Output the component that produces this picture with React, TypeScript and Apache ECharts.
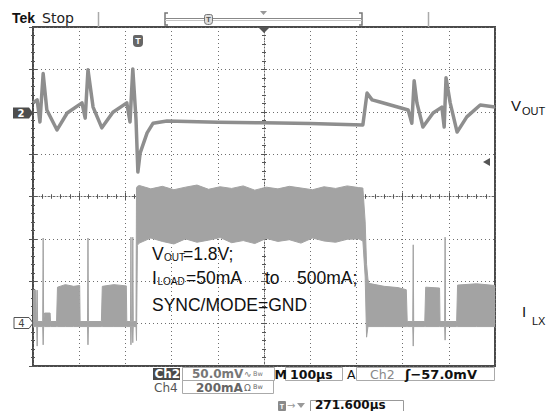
import React, { useEffect, useRef } from "react";
import * as echarts from "echarts";

// Horizontal: time in µs from the left edge of the screen (100 µs/div, 10 div)
// Vertical: screen divisions (-4 .. 4), Ch2 50 mV/div, Ch4 200 mA/div
const VOUT_T = [0, 9, 15, 22, 30, 52, 74, 106, 113, 119, 130, 149, 173, 203, 210, 216, 223, 227, 232, 247, 260, 290, 400, 500, 600, 714, 723, 734, 751, 812, 820, 825, 831, 844, 866, 885, 890, 894, 903, 918, 939, 968, 1000];
const VOUT_DIV = [2.21, 2.28, 1.76, 2.9, 2.04, 1.57, 1.97, 2.21, 1.85, 2.99, 2.11, 1.62, 1.99, 2.21, 1.76, 3.01, 1.81, 0.58, 1.03, 1.5, 1.73, 1.78, 1.75, 1.74, 1.72, 1.69, 2.44, 2.28, 2.23, 2.04, 1.73, 2.73, 2.21, 1.64, 1.97, 2.11, 1.64, 2.8, 2.21, 1.52, 1.88, 2.16, 2.11];

const ILX_T = [0, 6, 7, 8, 9, 10, 21, 22, 23, 25, 37, 38, 51, 53, 70, 88, 101, 102, 118, 119, 120, 148, 150, 175, 202, 203, 211, 212, 213, 215, 216, 217, 223, 224, 226,
  230, 255, 280, 305, 330, 355, 380, 405, 430, 455, 480, 505, 530, 555, 580, 605, 630, 655, 680, 705,
  714, 719, 722, 725, 727, 760, 790, 808, 810, 822, 823, 824, 848, 850, 880, 881, 891, 892, 893, 917, 919, 960, 1000];
const ILX_TOP = [-2.21, -2.21, -2.95, -2.95, -2.21, -2.95, -2.95, -0.98, -2.95, -2.75, -2.75, -2.95, -2.95, -2.14, -2.08, -2.12, -2.1, -2.95, -2.95, -0.98, -2.95, -2.95, -2.12, -2.08, -2.11, -2.95, -2.95, -0.96, -2.95, -2.95, -0.96, -2.95, -2.95, 0.2, 0.24,
  0.26, 0.18, 0.24, 0.16, 0.22, 0.27, 0.17, 0.23, 0.19, 0.25, 0.15, 0.22, 0.18, 0.24, 0.2, 0.16, 0.23, 0.19, 0.25, 0.21,
  0.2, -0.6, -1.6, -1.95, -2.05, -2.12, -2.15, -2.2, -2.95, -2.95, -1.14, -2.95, -2.95, -2.14, -2.16, -2.95, -2.95, -0.96, -2.95, -2.95, -2.09, -2.06, -2.1];
const ILX_BOT = [-3.07, -3.07, -3.07, -3.07, -3.53, -3.07, -3.07, -3.5, -3.07, -3.07, -3.07, -3.07, -3.07, -3.07, -3.07, -3.07, -3.07, -3.07, -3.07, -3.5, -3.07, -3.07, -3.07, -3.07, -3.07, -3.07, -3.07, -3.5, -3.07, -3.07, -3.45, -3.07, -3.07, -3.4, -1.15,
  -1.1, -0.98, -1.06, -1.12, -1.0, -1.08, -1.03, -0.97, -1.09, -1.04, -1.11, -0.99, -1.06, -1.02, -1.1, -0.98, -1.05, -1.08, -1.01, -1.0,
  -1.05, -1.9, -3.32, -3.07, -3.07, -3.07, -3.07, -3.07, -3.07, -3.07, -3.53, -3.07, -3.07, -3.07, -3.07, -3.07, -3.07, -3.39, -3.07, -3.07, -3.07, -3.07, -3.07];

const SANS = "Liberation Sans";
const TEK = "DejaVu Sans";

function txt(x: number, y: number, text: string, size: number, o: any = {}) {
  return {
    type: "text", x, y, z: 100, silent: true,
    style: {
      text, fontSize: size, fontFamily: o.family || SANS, fontWeight: o.weight || "normal",
      fill: o.fill || "#111", align: o.align || "left", verticalAlign: "middle",
    },
  };
}
function rect(x: number, y: number, w: number, h: number, style: any, r: any = 0) {
  return { type: "rect", z: 99, silent: true, shape: { x, y, width: w, height: h, r }, style };
}
function poly(points: number[][], style: any) {
  return { type: "polygon", z: 99, silent: true, shape: { points }, style };
}
function seg(x1: number, y1: number, x2: number, y2: number, stroke: string, w = 1) {
  return { type: "line", z: 99, silent: true, shape: { x1, y1, x2, y2 }, style: { stroke, lineWidth: w } };
}

const GRID = { left: 33, top: 27, width: 462, height: 339 };

export default function App() {
  const ref = useRef<HTMLDivElement>(null);
  useEffect(() => {
    if (!ref.current) return;
    const chart = echarts.init(ref.current, null, { renderer: "svg" });
    const tickStyle = { color: "#555", width: 1 };
    const borderX = (pos: string, split: boolean) => ({
      gridIndex: 0, type: "value", min: 0, max: 1000, interval: 100, position: pos,
      axisLine: { show: false }, axisLabel: { show: false },
      axisTick: { show: true, inside: true, length: 4, lineStyle: tickStyle },
      minorTick: { show: true, splitNumber: 5, length: 2, lineStyle: tickStyle },
      splitLine: { show: split, lineStyle: { color: "#6e6e6e", width: 1, type: [1, 3] } },
    });
    const borderY = (pos: string, split: boolean) => ({
      gridIndex: 0, type: "value", min: -4, max: 4, interval: 1, position: pos,
      axisLine: { show: false }, axisLabel: { show: false },
      axisTick: { show: true, inside: true, length: 4, lineStyle: tickStyle },
      minorTick: { show: true, splitNumber: 5, length: 2, lineStyle: tickStyle },
      splitLine: { show: split, lineStyle: { color: "#6e6e6e", width: 1, type: [1, 3] } },
    });
    const centerX = (g: number, inside: boolean, line: boolean) => ({
      gridIndex: g, type: "value", min: -500, max: 500, interval: 100, position: "bottom",
      axisLine: { show: line, onZero: true, lineStyle: { color: "#666", width: 1, type: [1, 2] } },
      axisLabel: { show: false },
      axisTick: { show: true, inside, length: 3, lineStyle: tickStyle },
      minorTick: { show: true, splitNumber: 5, length: 2, lineStyle: tickStyle },
      splitLine: { show: false },
    });
    const centerY = (g: number, inside: boolean, line: boolean) => ({
      gridIndex: g, type: "value", min: -4, max: 4, interval: 1, position: "left",
      axisLine: { show: line, onZero: true, lineStyle: { color: "#666", width: 1, type: [1, 2] } },
      axisLabel: { show: false },
      axisTick: { show: true, inside, length: 3, lineStyle: tickStyle },
      minorTick: { show: true, splitNumber: 5, length: 2, lineStyle: tickStyle },
      splitLine: { show: false },
    });

    const ilxData = ILX_T.map((t, i) => [t, ILX_TOP[i], ILX_BOT[i]]);

    const elements: any[] = [
      // top status line
      txt(12, 17.5, "Tek", 14, { weight: "bold", fill: "#111" }),
      txt(42, 17.5, "Stop", 14, { family: TEK, fill: "#222" }),
      seg(98.5, 12, 98.5, 27, "#aaa", 1.5),
      { type: "polyline", z: 99, silent: true, shape: { points: [[168, 13], [165, 13], [165, 25], [168, 25]] }, style: { stroke: "#777", lineWidth: 1.5, fill: null } },
      { type: "polyline", z: 99, silent: true, shape: { points: [[359, 13], [362, 13], [362, 25], [359, 25]] }, style: { stroke: "#777", lineWidth: 1.5, fill: null } },
      seg(165, 18.5, 362, 18.5, "#888", 1),
      seg(165, 20.5, 362, 20.5, "#c4c4c4", 1),
      rect(204.5, 14.5, 8, 10, { fill: "#ddd", stroke: "#777", lineWidth: 1 }, [2, 2, 3, 3]),
      txt(208.5, 19.5, "T", 8, { weight: "bold", fill: "#555", align: "center" }),
      poly([[260, 11], [267, 11], [263.5, 15]], { fill: "#999" }),
      seg(428.5, 12, 428.5, 27, "#aaa", 1.5),
      poly([[258, 27], [270, 27], [264, 33]], { fill: "#555" }),
      // trigger T marker in graticule
      rect(133, 35, 10, 12, { fill: "#666" }, [2, 2, 4, 4]),
      txt(138, 40.5, "T", 9, { weight: "bold", fill: "#fff", align: "center" }),
      // channel ground markers
      poly([[13, 107.5], [29, 107.5], [33, 113], [29, 118.5], [13, 118.5]], { fill: "#4d4d4d" }),
      txt(21, 113, "2", 10, { weight: "bold", fill: "#fff", align: "center", family: TEK }),
      poly([[14, 317.5], [29, 317.5], [33, 323], [29, 328.5], [14, 328.5]], { fill: "#fff", stroke: "#555", lineWidth: 1 }),
      txt(21.5, 323, "4", 10, { fill: "#444", align: "center", family: TEK }),
      // trigger level marker
      poly([[483, 162], [490, 158], [490, 166]], { fill: "#555" }),
      // right labels
      txt(511, 105.5, "V", 15),
      txt(522, 110.5, "OUT", 11),
      txt(522, 311.5, "I", 15),
      txt(532, 321, "LX", 11),
      // annotation
      txt(152, 254, "V", 17.5),
      txt(164, 257.5, "OUT", 10),
      txt(183, 254, "=1.8V;", 17.5),
      txt(152, 278, "I", 17.5),
      txt(157.5, 281.5, "LOAD", 10),
      txt(186, 278, "=50mA", 17.5),
      txt(265, 278, "to", 17.5),
      txt(297, 278, "500mA;", 17.5),
      txt(152, 304.5, "SYNC/MODE=GND", 17.5),
      // status bar row 1
      rect(153, 368, 27, 12, { fill: "#4a4a4a" }),
      txt(154.5, 374, "Ch2", 12, { family: TEK, weight: "bold", fill: "#fff" }),
      rect(182.5, 367.5, 92, 13, { fill: null, stroke: "#aaa", lineWidth: 1 }),
      txt(192, 374, "50.0mV", 12, { family: TEK, weight: "bold", fill: "#777" }),
      txt(244, 373.5, "∿", 9, { family: TEK, fill: "#777" }),
      txt(253, 373.5, "Bw", 6.5, { family: TEK, fill: "#777" }),
      txt(274.5, 374, "M", 12.5, { family: TEK, weight: "bold", fill: "#111" }),
      rect(285.5, 367.5, 57, 13, { fill: null, stroke: "#aaa", lineWidth: 1 }),
      txt(290, 374, "100µs", 12.5, { family: TEK, weight: "bold", fill: "#111" }),
      txt(347, 374, "A", 12.5, { family: TEK, fill: "#111" }),
      rect(356.5, 367.5, 138, 13, { fill: null, stroke: "#aaa", lineWidth: 1 }),
      txt(370, 374, "Ch2", 12.5, { family: TEK, fill: "#888" }),
      txt(405, 374, "ʃ−57.0mV", 13, { family: TEK, weight: "bold", fill: "#111" }),
      // row 2
      txt(154, 387.5, "Ch4", 12, { family: TEK, fill: "#555" }),
      rect(182.5, 380.5, 91, 13, { fill: null, stroke: "#aaa", lineWidth: 1 }),
      txt(196, 387.5, "200mA", 12, { family: TEK, weight: "bold", fill: "#666" }),
      txt(244, 387.5, "Ω", 9, { family: TEK, fill: "#666" }),
      txt(253, 387, "Bw", 6.5, { family: TEK, fill: "#666" }),
      // row 3
      rect(278, 401, 8, 10, { fill: "#8a8a8a" }, 1),
      txt(282, 406, "T", 7, { weight: "bold", fill: "#fff", align: "center" }),
      txt(287, 405, "→", 10, { family: TEK, fill: "#999" }),
      poly([[297, 403], [305, 403], [301, 408]], { fill: "#999" }),
      rect(310.5, 400.5, 93, 14, { fill: null, stroke: "#999", lineWidth: 1 }),
      txt(315, 404.5, "271.600µs", 12, { family: TEK, weight: "bold", fill: "#111" }),
    ];

    chart.setOption({
      animation: false,
      backgroundColor: "#fff",
      grid: [
        { ...GRID, show: true, borderColor: "#4a4a4a", borderWidth: 2, backgroundColor: "transparent" },
        { ...GRID },
        { ...GRID },
      ],
      xAxis: [borderX("bottom", true), borderX("top", false), centerX(1, true, true), centerX(2, false, false)],
      yAxis: [borderY("left", true), borderY("right", false), centerY(1, true, true), centerY(2, false, false)],
      series: [
        {
          type: "custom", name: "ILX", coordinateSystem: "cartesian2d", xAxisIndex: 0, yAxisIndex: 0,
          data: ilxData, encode: { x: 0, y: [1, 2] }, clip: true, z: 3, silent: true,
          renderItem: (params: any, api: any) => {
            if (params.dataIndex !== 0) return null;
            const top = ILX_T.map((t, i) => api.coord([t, ILX_TOP[i]]));
            const bot = ILX_T.map((t, i) => api.coord([t, ILX_BOT[i]])).reverse();
            return {
              type: "polygon",
              shape: { points: top.concat(bot) },
              style: { fill: "#a3a3a3", stroke: "#a3a3a3", lineWidth: 1 },
            };
          },
        },
        {
          type: "line", name: "VOUT", xAxisIndex: 0, yAxisIndex: 0,
          data: VOUT_T.map((t, i) => [t, VOUT_DIV[i]]),
          showSymbol: false, symbol: "none", clip: true, z: 4, silent: true,
          lineStyle: { color: "#8e8e8e", width: 3.5, join: "round" },
        },
      ],
      graphic: { elements },
    });
    return () => chart.dispose();
  }, []);
  return <div ref={ref} style={{ position: "fixed", left: 0, top: 0, width: 558, height: 411, background: "#fff" }} />;
}
